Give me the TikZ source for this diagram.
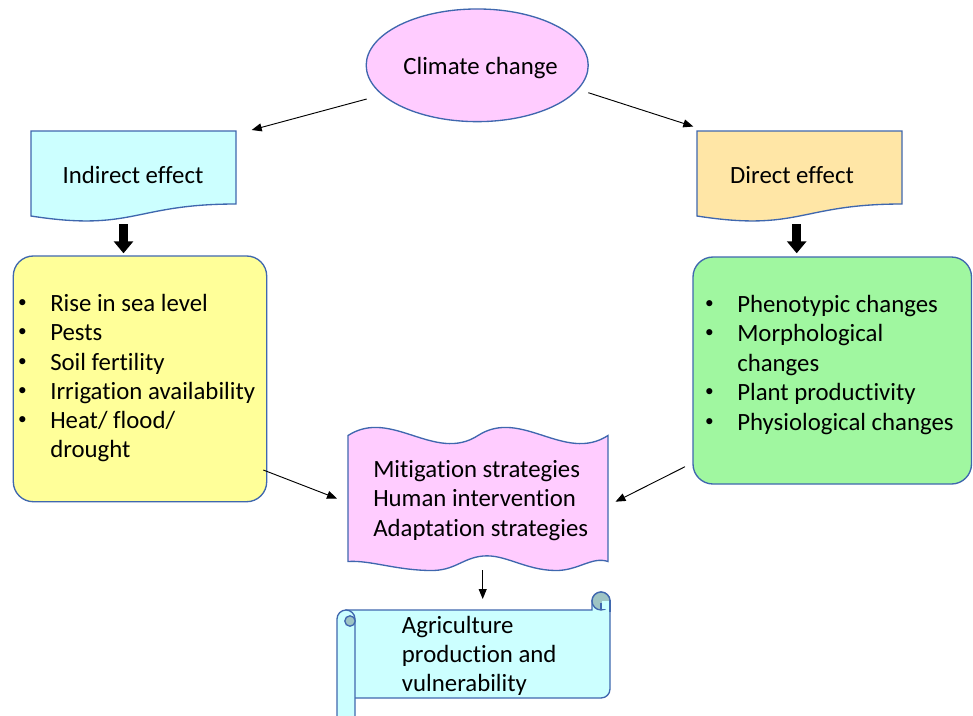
\documentclass[tikz,border=0pt]{standalone}
\usepackage{fontspec}
\setmainfont{Carlito}[Ligatures=NoCommon]
\usetikzlibrary{arrows.meta,shapes.geometric}
\definecolor{bord}{HTML}{3F67AE}
\definecolor{pinkc}{HTML}{FFCCFF}
\definecolor{cyanc}{HTML}{CCFFFF}
\definecolor{orangec}{HTML}{FFE6A6}
\definecolor{yellowc}{HTML}{FFFF99}
\definecolor{greenc}{HTML}{A0F7A0}
\definecolor{rolld}{HTML}{9EC4C4}
\tikzset{
  shp/.style={draw=bord, line width=1pt},
  txt/.style={anchor=base west, inner sep=0pt},
  ctxt/.style={anchor=base, inner sep=0pt},
  bul/.style={anchor=center, inner sep=0pt, font=\fontsize{13}{15}\selectfont},
  arr/.style={-{Triangle[length=7.5pt,width=6pt]}, line width=0.7pt, black},
  blockarr/.style={-{Triangle[length=9pt,width=14.25pt]}, line width=6.75pt, black},
}
\begin{document}
\begin{tikzpicture}[x=0.75pt,y=-0.75pt, font=\fontsize{18.6}{22}\selectfont]
\useasboundingbox (0,0) rectangle (973,715);

% Climate change ellipse
\node[ellipse, shp, fill=pinkc, minimum width=166.5pt, minimum height=84.5pt, inner sep=0pt, outer sep=0pt] (cc) at (477.2,65.3) {};
\node[ctxt] (cct) at (480.5,74) {Climate change};

% Indirect effect (document shape)
\path[shp, fill=cyanc] (31,131) -- (236,131) -- (236,204) .. controls (133.5,204) and (133.5,232) .. (31,216) -- cycle;
\node[ctxt] (ind) at (133,183) {Indirect effect};

% Direct effect (document shape)
\path[shp, fill=orangec] (697,131) -- (902,131) -- (902,204) .. controls (799.5,204) and (799.5,232) .. (697,216) -- cycle;
\node[ctxt] (dir) at (792,183) {Direct effect};

% Yellow box
\path[shp, fill=yellowc, rounded corners=15pt] (13.3,256) rectangle (266.7,501.7);
\node[bul] at (22.5,303.3) {•};
\node[txt] (y1) at (50,311) {Rise in sea level};
\node[bul] at (22.5,333) {•};
\node[txt] (y2) at (50,340.7) {Pests};
\node[bul] at (22.5,362.3) {•};
\node[txt] (y3) at (50,370) {Soil fertility};
\node[bul] at (22.5,391.6) {•};
\node[txt] (y4) at (50,399.3) {Irrigation availability};
\node[bul] at (22.5,420.6) {•};
\node[txt] (y5) at (50,428.3) {Heat/ flood/};
\node[txt] (y6) at (50,457.3) {drought};

% Green box
\path[shp, fill=greenc, rounded corners=15pt] (693,257) rectangle (971.5,484);
\node[bul] at (709.5,304.3) {•};
\node[txt] (g1) at (737,312) {Phenotypic changes};
\node[bul] at (709.5,333.8) {•};
\node[txt] (g2) at (737,341.5) {Morphological};
\node[txt] (g3) at (737,371) {changes};
\node[bul] at (709.5,392.8) {•};
\node[txt] (g4) at (737,400.5) {Plant productivity};
\node[bul] at (709.5,422.3) {•};
\node[txt] (g5) at (737,430) {Physiological changes};

% Wave shape
\path[shp, fill=pinkc]
  (348,435.5) .. controls (391.3,407.5) and (434.7,463.5) .. (478,435.5)
  .. controls (521.3,407.5) and (564.7,463.5) .. (608,435.5)
  -- (608,561.5)
  .. controls (592,556) and (578,571) .. (555,570.5)
  .. controls (525,570) and (505,554) .. (483,556)
  .. controls (462,558) and (455,571) .. (430,570.5)
  .. controls (395,570) and (370,560) .. (348,561.5) -- cycle;
\node[txt] (w1) at (373,477) {Mitigation strategies};
\node[txt] (w2) at (373,506.5) {Human intervention};
\node[txt] (w3) at (373,536) {Adaptation strategies};

% Scroll
\path[shp, fill=cyanc] (346,610) -- (592,610) -- (592,601) arc[start angle=180,end angle=0,radius=6.75pt] -- (610,689) arc[start angle=0,end angle=-90,radius=6.75pt] -- (346,698) -- cycle;
\draw[shp, fill=rolld] (601,601) circle[radius=6.75pt];
\fill[cyanc] (601.6,601) rectangle (609.4,609.4);
\draw[shp] (601,603) -- (601,610);
\draw[shp] (610,600) -- (610,612);
\path[shp, fill=cyanc] (355,730) -- (355,619) arc[start angle=0,end angle=180,radius=6.75pt] -- (337,730);
\draw[shp, fill=rolld] (350,621) circle[radius=3.9pt];
\node[txt] (s1) at (401.7,633) {Agriculture};
\node[txt] (s2) at (401.7,662) {production and};
\node[txt] (s3) at (401.7,691) {vulnerability};

% Connector end points
\coordinate (a1s) at (366.7,99);
\coordinate (a1e) at (251.7,130);
\coordinate (a2s) at (588.3,92.7);
\coordinate (a2e) at (693.3,126.5);
\coordinate (a3s) at (263.3,470);
\coordinate (a3e) at (337,498.5);
\coordinate (a4s) at (685,466.7);
\coordinate (a4e) at (615.5,501.7);
\coordinate (a5s) at (482.7,570);
\coordinate (a5e) at (482.7,599);
\coordinate (b1s) at (123.5,224);
\coordinate (b1e) at (123.5,253.3);
\coordinate (b2s) at (796.7,224);
\coordinate (b2e) at (796.7,253.3);

\draw[arr] (a1s) -- (a1e);
\draw[arr] (a2s) -- (a2e);
\draw[arr] (a3s) -- (a3e);
\draw[arr] (a4s) -- (a4e);
\draw[arr] (a5s) -- (a5e);
\draw[blockarr] (b1s) -- (b1e);
\draw[blockarr] (b2s) -- (b2e);
\end{tikzpicture}
\end{document}
